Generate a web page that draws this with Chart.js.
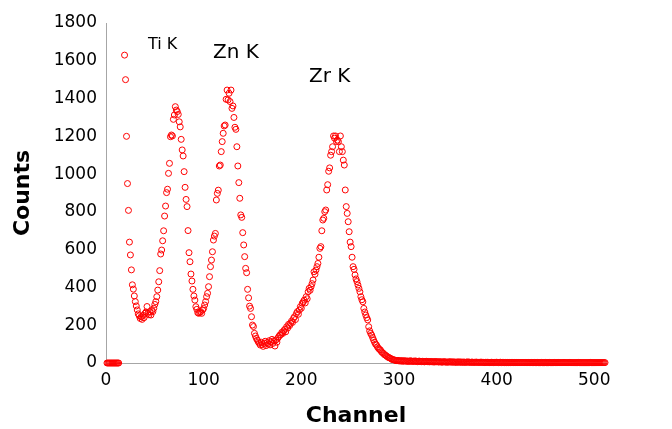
<!DOCTYPE html>
<html>
<head>
<meta charset="utf-8">
<script src="https://cdn.jsdelivr.net/npm/chart.js@4"></script>
<style>
  html, body { margin: 0; padding: 0; background: #fff; }
  #wrap { width: 672px; height: 429px; }
</style>
</head>
<body>
<div id="wrap"><canvas id="spectrumChart"></canvas></div>
<script>
// counts per channel, starting at channel 1 (null = no point shown)
const firstChannel = 1;
const counts = [
  0, 0, 0, 0, 0, 0, 0, 0, 0, 0,
  0, 0, 0, null, null, null, null, null, 1630, 1500,
  1200, 950, 808, 640, 572, 493, 414, 391, 355, 325,
  302, 281, 260, 250, 236, 245, 231, 252, 240, 263,
  270, 299, 263, 255, 272, 254, 278, 272, 290, 310,
  325, 351, 386, 430, 489, 577, 598, 647, 700, 778,
  831, 902, 920, 1004, 1057, 1198, 1207, 1202, 1290, 1313,
  1357, 1339, 1331, 1316, 1277, 1250, 1184, 1128, 1096, 1013,
  930, 866, 828, 701, 584, 536, 471, 434, 390, 355,
  333, 298, 284, 266, 263, 268, 272, 263, 281, 289,
  307, 325, 351, 369, 404, 457, 510, 545, 589, 651,
  672, 686, 863, 898, 915, 1043, 1048, 1119, 1172, 1216,
  1255, 1260, 1396, 1445, 1393, 1428, 1384, 1445, 1348, 1361,
  1300, 1248, 1237, 1145, 1043, 955, 872, 784, 771, 690,
  625, 563, 501, 478, 390, 345, 301, 289, 245, 201,
  193, 157, 143, 130, 121, 111, 104, 95, 110, 98,
  88, 105, 115, 92, 108, 100, 118, 96, 112, 125,
  104, 118, 90, 122, 110, 132, 140, 148, 150, 162,
  157, 170, 178, 165, 192, 185, 205, 198, 210, 222,
  215, 236, 245, 230, 262, 272, 258, 280, 298, 290,
  316, 324, 333, 318, 351, 340, 377, 395, 385, 404,
  420, 439, 483, 470, 492, 510, 527, 560, 607, 616,
  700, 757, 766, 801, 810, 916, 944, 1015, 1033, 1100,
  1119, 1145, 1202, 1190, 1202, 1172, 1180, 1172, 1119, 1202,
  1145, 1119, 1074, 1048, 916, 828, 792, 748, 695, 640,
  616, 560, 510, 496, 466, 445, 431, 413, 395, 377,
  351, 335, 324, 289, 270, 254, 240, 228, 192, 170,
  157, 148, 135, 122, 110, 100, 95, 85, 78, 72,
  69, 60, 55, 51, 45, 42, 38, 34, 30, 28,
  26, 22, 19, 18, 16, 15, 13, 12, 14, 11,
  12, 10, 13, 9, 11, 12, 10, 9, 11, 8,
  10, 12, 9, 8, 10, 9, 11, 8, 7, 9,
  10, 8, 7, 9, 8, 6, 8, 9, 7, 8,
  6, 7, 8, 6, 7, 5, 8, 6, 7, 6,
  5, 7, 6, 4, 6, 7, 5, 6, 4, 5,
  6, 5, 7, 4, 5, 6, 4, 5, 3, 6,
  5, 4, 6, 3, 5, 4, 5, 3, 4, 6,
  4, 5, 3, 4, 5, 3, 4, 3, 5, 4,
  3, 4, 3, 5, 3, 4, 3, 2, 4, 3,
  4, 3, 2, 3, 4, 3, 2, 3, 3, 4,
  3, 2, 3, 4, 2, 3, 3, 2, 3, 2,
  3, 2, 3, 2, 3, 3, 2, 3, 2, 3,
  2, 3, 2, 2, 3, 2, 3, 2, 2, 3,
  2, 2, 3, 2, 2, 3, 2, 2, 3, 2,
  2, 3, 2, 2, 2, 3, 2, 2, 2, 3,
  2, 2, 2, 3, 2, 2, 2, 2, 3, 2,
  2, 2, 3, 2, 2, 2, 2, 2, 3, 2,
  2, 2, 2, 2, 3, 2, 2, 2, 2, 2,
  2, 2, 2, 3, 2, 2, 2, 2, 2, 2,
  2, 2, 2, 2, 2, 3, 2, 2, 2, 2,
  2, 2, 2, 2, 2, 2, 2, 2, 2, 2,
  2
];

const xTicks = [0, 100, 200, 300, 400, 500];
const yTicks = [0, 200, 400, 600, 800, 1000, 1200, 1400, 1600, 1800];

// peak names, placed at (channel, counts)
const peakNames = ['Ti K', 'Zn K', 'Zr K'];
const peakChannels = [58, 133, 229];
const peakCounts = [1683, 1641, 1514];
const peakFontSizes = [16, 20, 20];

document.addEventListener("DOMContentLoaded", function() {
    const points = counts.map((c, i) => ({ x: firstChannel + i, y: c }));

    // texte des pics
    const peakLabelPlugin = {
        id: 'peakLabels',
        afterDatasetsDraw(chart) {
            const ctx = chart.ctx;
            const xs = chart.scales.x, ys = chart.scales.y;
            ctx.save();
            ctx.fillStyle = '#000';
            ctx.textAlign = 'center';
            ctx.textBaseline = 'middle';
            peakNames.forEach((name, i) => {
                ctx.font = peakFontSizes[i] + 'px "DejaVu Sans"';
                ctx.fillText(name, xs.getPixelForValue(peakChannels[i]), ys.getPixelForValue(peakCounts[i]));
            });
            ctx.restore();
        }
    };

    const ctx = document.getElementById('spectrumChart').getContext('2d');
    new Chart(ctx, {
        type: 'scatter',
        data: {
            datasets: [{
                label: 'Counts',
                data: points,
                pointStyle: 'circle',
                pointRadius: 3,
                pointBorderWidth: 1,
                borderColor: 'rgb(255, 0, 0)',
                backgroundColor: 'rgba(255, 255, 255, 0)',
                pointHoverRadius: 3,
                clip: false
            }]
        },
        options: {
            responsive: true,
            maintainAspectRatio: false,
            animation: false,
            layout: { padding: { top: 23, right: 66, left: 0, bottom: 0 } },
            plugins: {
                legend: { display: false },
                tooltip: { enabled: false }
            },
            scales: {
                x: {
                    type: 'linear',
                    min: 0,
                    max: 512,
                    afterBuildTicks: s => { s.ticks = xTicks.map(v => ({ value: v })); },
                    afterFit: s => { s.height = 66; },
                    grid: { display: false, drawTicks: false },
                    border: { display: true, color: '#a6a6a6', width: 1 },
                    ticks: {
                        color: '#000',
                        padding: 7,
                        font: { family: 'DejaVu Sans', size: 17 },
                        callback: v => String(v)
                    },
                    title: {
                        display: true,
                        text: 'Channel',
                        color: '#000',
                        padding: { top: 4, bottom: 0 },
                        font: { family: 'DejaVu Sans', size: 22, weight: 'bold' }
                    }
                },
                y: {
                    type: 'linear',
                    min: 0,
                    max: 1800,
                    afterBuildTicks: s => { s.ticks = yTicks.map(v => ({ value: v })); },
                    afterFit: s => { s.width = 106; },
                    grid: { display: false, drawTicks: false },
                    border: { display: true, color: '#a6a6a6', width: 1 },
                    ticks: {
                        color: '#000',
                        padding: 9,
                        font: { family: 'DejaVu Sans', size: 17 },
                        callback: v => String(v)
                    },
                    title: {
                        display: true,
                        text: 'Counts',
                        color: '#000',
                        padding: { top: 10, bottom: 0 },
                        font: { family: 'DejaVu Sans', size: 22, weight: 'bold' }
                    }
                }
            }
        },
        plugins: [peakLabelPlugin]
    });
});
</script>
</body>
</html>
